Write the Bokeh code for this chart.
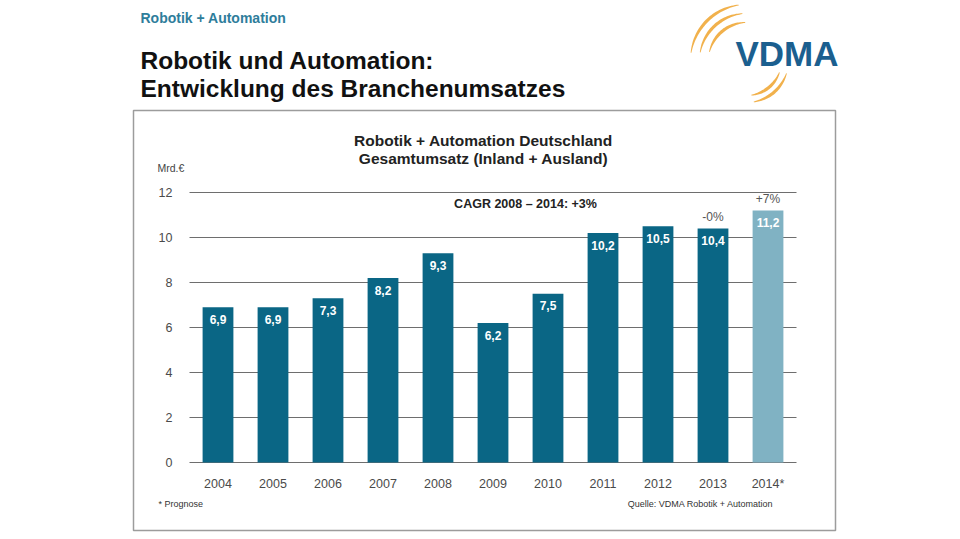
import math

from bokeh.core.properties import value
from bokeh.embed import file_html
from bokeh.models import ColumnDataSource, Range1d
from bokeh.plotting import figure
from bokeh.resources import INLINE

# Umsatz Robotik + Automation Deutschland, Mrd. Euro
years = [2004, 2005, 2006, 2007, 2008, 2009, 2010, 2011, 2012, 2013, 2014]
year_labels = ["2004", "2005", "2006", "2007", "2008", "2009", "2010",
               "2011", "2012", "2013", "2014*"]
revenue = [6.9, 6.9, 7.3, 8.2, 9.3, 6.2, 7.5, 10.2, 10.5, 10.4, 11.2]
forecast = [False, False, False, False, False, False, False, False, False, False, True]
growth_labels = ["", "", "", "", "", "", "", "", "", "-0%", "+7%"]
y_ticks = [0, 2, 4, 6, 8, 10, 12]

FONT = "Liberation Sans"
BAR_DARK = "#0a6685"
BAR_LIGHT = "#80b2c3"

W, H = 960, 539
# page geometry of the chart area (pixels)
FIRST_BAR_PX = 217.5   # centre of the first bar
STEP_PX = 55.0         # distance between bar centres
ZERO_PX = 462.0        # baseline
UNIT_PX = 22.5         # pixels per Mrd. Euro
GRID_L, GRID_R = 189, 796

# the frame fills the whole page; chart ranges are set so the bars land
# in the chart box, a second pair of ranges addresses the page in pixels
x_start = years[0] - FIRST_BAR_PX / STEP_PX
x_end = years[0] + (W - FIRST_BAR_PX) / STEP_PX
y_start = -(H - ZERO_PX) / UNIT_PX
y_end = ZERO_PX / UNIT_PX

p = figure(
    width=W, height=H, output_backend="svg", toolbar_location=None,
    x_range=Range1d(x_start, x_end), y_range=Range1d(y_start, y_end),
    min_border=0, min_border_left=0, min_border_right=0,
    min_border_top=0, min_border_bottom=0,
)
p.extra_x_ranges = {"px": Range1d(0, W)}
p.extra_y_ranges = {"px": Range1d(H, 0)}
p.title.visible = False
p.outline_line_color = None
p.background_fill_color = "white"
p.border_fill_color = "white"
p.xgrid.visible = False
p.ygrid.visible = False

# axes pinned inside the frame
yaxis_at = x_start + GRID_L / W * (x_end - x_start)
for ax in (p.xaxis[0], p.yaxis[0]):
    ax.axis_line_color = None
    ax.major_tick_line_color = None
    ax.minor_tick_line_color = None
    ax.major_label_text_font = FONT
    ax.major_label_text_font_size = "12.5px"
    ax.major_label_text_color = "#4a4a4a"
p.yaxis.fixed_location = yaxis_at
p.yaxis.ticker = y_ticks
p.yaxis.major_label_standoff = 11
p.xaxis.fixed_location = 0
p.xaxis.ticker = years
p.xaxis.major_label_standoff = 8
p.xaxis.major_label_overrides = {y: lab for y, lab in zip(years, year_labels)}

# horizontal grid lines, limited to the chart box
p.segment(x0=[GRID_L] * len(y_ticks), x1=[GRID_R] * len(y_ticks),
          y0=y_ticks, y1=y_ticks, x_range_name="px",
          line_color="#6e6e6e", line_width=1.1)

source = ColumnDataSource(dict(
    year=years,
    revenue=revenue,
    color=[BAR_LIGHT if f else BAR_DARK for f in forecast],
    value_text=[f"{v:.1f}".replace(".", ",") for v in revenue],
    growth=growth_labels,
))

# bars
p.vbar(x="year", top="revenue", width=0.56, fill_color="color",
       line_color=None, source=source)

# values inside the bars
p.text(x="year", y="revenue", text="value_text", source=source,
       y_offset=12, text_align="center", text_baseline="middle",
       text_color="white", text_font=value(FONT), text_font_size="12px",
       text_font_style="bold")

# growth rates above the last bars
p.text(x="year", y="revenue", text="growth", source=source,
       y_offset=-12, text_align="center", text_baseline="middle",
       text_color="#555555", text_font=value(FONT), text_font_size="12px")


def page_text(text, x, y, size, color="#222222", bold=False, align="left"):
    p.text(x=[x], y=[y], text=[text], x_range_name="px", y_range_name="px",
           text_font=value(FONT), text_font_size=size, text_color=color,
           text_font_style="bold" if bold else "normal",
           text_align=align, text_baseline="middle")


# page header
page_text("Robotik + Automation", 140, 17, "14px", color="#2e7d9b", bold=True)
page_text("Robotik und Automation:", 140, 60, "24.5px", color="#111111", bold=True)
page_text("Entwicklung des Branchenumsatzes", 140, 88, "24.5px", color="#111111", bold=True)

# chart box
p.quad(left=[133], right=[835], top=[110], bottom=[530],
       x_range_name="px", y_range_name="px",
       fill_color=None, line_color="#9c9c9c", line_width=1.5)

# chart titles and notes
page_text("Robotik + Automation Deutschland", 483, 140, "15.5px", bold=True, align="center")
page_text("Gesamtumsatz (Inland + Ausland)", 483, 158, "15.5px", bold=True, align="center")
page_text("Mrd.€", 157, 167, "10.5px", color="#444444")
page_text("CAGR 2008 – 2014: +3%", 525, 203, "12.5px", bold=True, align="center")
page_text("* Prognose", 158, 503, "9px", color="#333333")
page_text("Quelle: VDMA Robotik + Automation", 773, 503, "9px", color="#333333", align="right")

# VDMA logo: wordmark plus tapered arcs
page_text("VDMA", 735, 53, "35px", color="#1b5f8f", bold=True)


def arc_band(cx, cy, r, a0, a1, thick, n=40):
    outer, inner = [], []
    for i in range(n + 1):
        u = i / n
        a = math.radians(a0 + (a1 - a0) * u)
        t = thick * (0.25 + 0.75 * math.sin(math.pi * u))
        outer.append((cx + (r + t / 2) * math.cos(a), cy + (r + t / 2) * math.sin(a)))
        inner.append((cx + (r - t / 2) * math.cos(a), cy + (r - t / 2) * math.sin(a)))
    pts = outer + inner[::-1]
    return [x for x, _ in pts], [y for _, y in pts]


arcs = [(56, 188, 262), (47, 190, 265), (38, 193, 268), (35, 20, 82), (42, 18, 80)]
arc_xs, arc_ys = [], []
for r, a0, a1 in arcs:
    xs, ys = arc_band(746, 60, r, a0, a1, 3.2)
    arc_xs.append(xs)
    arc_ys.append(ys)
p.patches(xs=arc_xs, ys=arc_ys, x_range_name="px", y_range_name="px",
          fill_color="#f0a938", fill_alpha=0.9, line_color=None)

open("out.html", "w").write(file_html(p, INLINE))
